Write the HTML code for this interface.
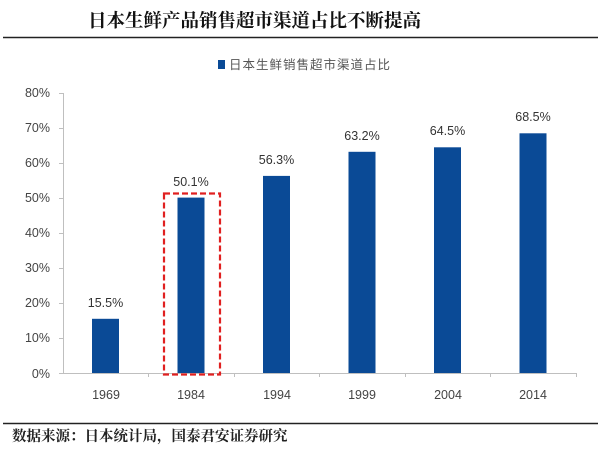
<!DOCTYPE html>
<html><head><meta charset="utf-8"><style>
body{margin:0;background:#fff;width:601px;height:445px;overflow:hidden;}
svg text{font-family:"Liberation Sans","Noto Sans CJK SC",sans-serif;}
</style></head><body>
<svg width="601" height="445" xmlns="http://www.w3.org/2000/svg">
<text x="88" y="27" font-size="18.5" font-weight="bold" fill="#111" style="font-family:'Noto Serif CJK SC','Liberation Serif',serif">日本生鲜产品销售超市渠道占比不断提高</text>
<line x1="3" y1="37.5" x2="598" y2="37.5" stroke="#222" stroke-width="1.5"/>
<rect x="218" y="60" width="7" height="9" fill="#0a4a96"/>
<text x="229" y="69" font-size="12.5" fill="#555" letter-spacing="1">日本生鲜销售超市渠道占比</text>
<g font-size="12.5" fill="#444" text-anchor="end">
<text x="50" y="97">80%</text><text x="50" y="132">70%</text><text x="50" y="167">60%</text><text x="50" y="202">50%</text><text x="50" y="237">40%</text><text x="50" y="272">30%</text><text x="50" y="307">20%</text><text x="50" y="342">10%</text><text x="50" y="378">0%</text>
</g>
<g stroke="#bfbfbf" stroke-width="1">
<line x1="63.5" y1="93" x2="63.5" y2="373"/>
<line x1="63" y1="373.5" x2="577" y2="373.5"/>
<line x1="59" y1="93.5" x2="63" y2="93.5"/><line x1="59" y1="128.5" x2="63" y2="128.5"/><line x1="59" y1="163.5" x2="63" y2="163.5"/><line x1="59" y1="198.5" x2="63" y2="198.5"/><line x1="59" y1="233.5" x2="63" y2="233.5"/><line x1="59" y1="268.5" x2="63" y2="268.5"/><line x1="59" y1="303.5" x2="63" y2="303.5"/><line x1="59" y1="338.5" x2="63" y2="338.5"/><line x1="59" y1="373.5" x2="63" y2="373.5"/>
<line x1="148.5" y1="373" x2="148.5" y2="377"/><line x1="234.5" y1="373" x2="234.5" y2="377"/><line x1="319.5" y1="373" x2="319.5" y2="377"/><line x1="405.5" y1="373" x2="405.5" y2="377"/><line x1="490.5" y1="373" x2="490.5" y2="377"/><line x1="576.5" y1="373" x2="576.5" y2="377"/>
</g>
<g fill="#0a4a96">
<rect x="92" y="318.8" width="27" height="54.2"/>
<rect x="177.5" y="197.6" width="27" height="175.4"/>
<rect x="263" y="175.9" width="27" height="197.1"/>
<rect x="348.5" y="151.8" width="27" height="221.2"/>
<rect x="434" y="147.3" width="27" height="225.7"/>
<rect x="519.5" y="133.3" width="27" height="239.7"/>
</g>
<rect x="164" y="193.5" width="56" height="181" fill="none" stroke="#e02020" stroke-width="2.2" stroke-dasharray="6,3"/>
<g font-size="12.5" fill="#333" text-anchor="middle">
<text x="105.5" y="307">15.5%</text>
<text x="191" y="186">50.1%</text>
<text x="276.5" y="164">56.3%</text>
<text x="362" y="140">63.2%</text>
<text x="447.5" y="135">64.5%</text>
<text x="533" y="121">68.5%</text>
</g>
<g font-size="12.5" fill="#444" text-anchor="middle">
<text x="106" y="399">1969</text><text x="191" y="399">1984</text><text x="277" y="399">1994</text><text x="362" y="399">1999</text><text x="448" y="399">2004</text><text x="533" y="399">2014</text>
</g>
<line x1="3" y1="423.5" x2="598" y2="423.5" stroke="#222" stroke-width="1.5"/>
<text x="12" y="441" font-size="14.5" font-weight="bold" fill="#222" style="font-family:'Noto Serif CJK SC','Liberation Serif',serif">数据来源：日本统计局，国泰君安证券研究</text>
</svg>
</body></html>
